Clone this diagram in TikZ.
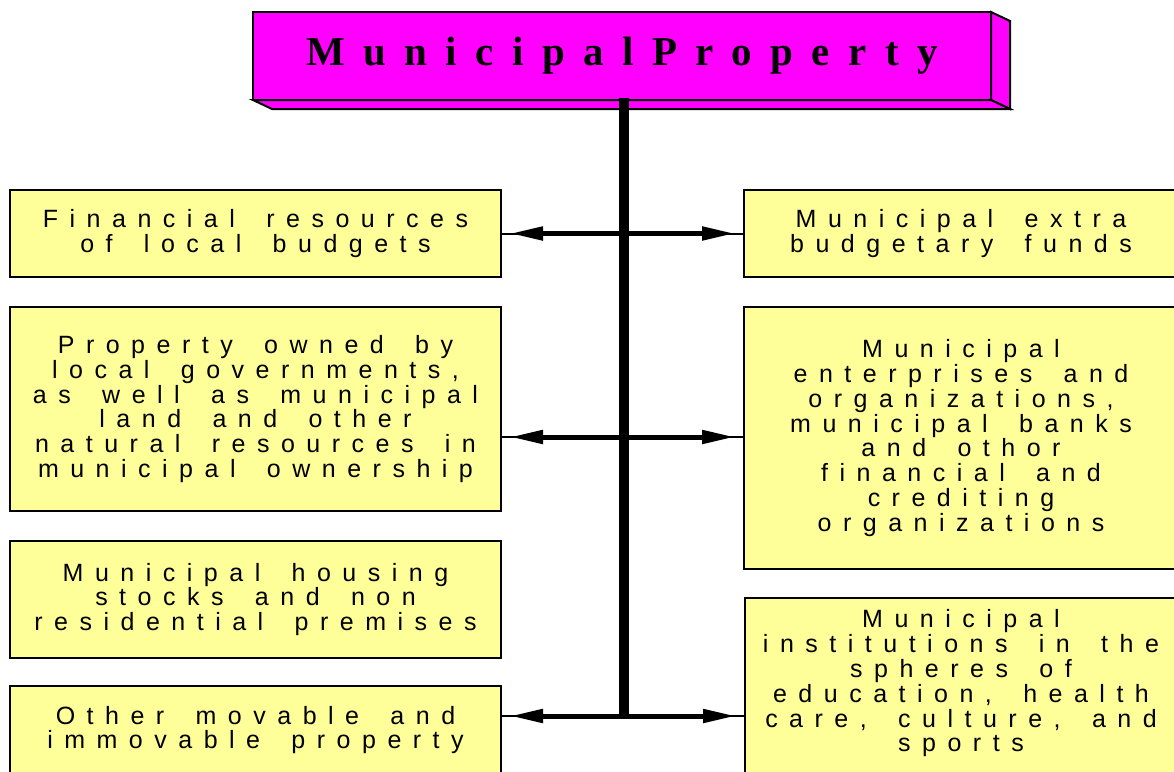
\documentclass[tikz,border=0pt]{standalone}
\usepackage{fontspec}
\usetikzlibrary{arrows.meta,calc}
\newfontfamily\boxfont[LetterSpace=46,WordSpace=1.7]{Liberation Sans}
\newfontfamily\titlefont[LetterSpace=45]{Liberation Serif}
\definecolor{boxyellow}{RGB}{255,255,153}
\definecolor{titlemag}{RGB}{255,0,255}
\begin{document}
\begin{tikzpicture}[x=1pt,y=-1pt,
  box/.style={draw=black, line width=2pt, fill=boxyellow, rectangle, inner sep=0pt,
    align=center, text=black, font=\boxfont\fontsize{25}{24.8}\selectfont},
  lbox/.style={box, minimum width=491pt},
  rbox/.style={box, minimum width=434pt},
  txt/.style={inner sep=0pt, align=center, text=black, font=\boxfont\fontsize{25}{24.8}\selectfont},
  titlebox/.style={draw=black, line width=2pt, fill=titlemag, rectangle, inner sep=0pt,
    minimum width=738pt, minimum height=88pt, text=black,
    font=\titlefont\bfseries\fontsize{41}{41}\selectfont},
  face/.style={draw=black, line width=2pt, fill=titlemag, line join=miter},
  conn/.style={line width=5pt, -{Triangle[length=33pt,width=13pt]}, shorten >=8pt},
  thinline/.style={line width=2pt},
  stem/.style={line width=10pt}
]
\useasboundingbox (0,0) rectangle (1174,771);
\clip (0,0) rectangle (1174,771);

% 3D title box
\draw[face] (991,12) -- (1010,21) -- (1010,109) -- (991,100) -- cycle;
\draw[face] (253,100) -- (272,109) -- (1010,109) -- (991,100) -- cycle;
\node[titlebox] (top) at (622,56) {MunicipalProperty};

% boxes
\node[lbox, minimum height=87pt] (L1) at (255.5,233.5) {Financial resources\\of local budgets};
\node[lbox, minimum height=204pt] (L2) at (255.5,409) {Property owned by\\local governments,\\as well as municipal\\land and other\\natural resources in\\municipal ownership};
\node[lbox, minimum height=117pt] (L3) at (255.5,599.5) {Municipal housing\\stocks and non\\residential premises};
\node[lbox, minimum height=88pt] (L4) at (255.5,730) {Other movable and\\immovable property};

\node[rbox, minimum height=87pt] (R1) at (961,233.5) {Municipal extra\\budgetary funds};
\node[rbox, minimum height=262pt] (R2) at (961,438) {Municipal\\enterprises and\\organizations,\\municipal banks\\and othor\\financial and\\crediting\\organizations};
\node[rbox, minimum height=200pt, anchor=north west] (R3) at (744,597) {};
\node[txt] (R3t) at (961,683.5) {Municipal\\institutions in the\\spheres of\\education, health\\care, culture, and\\sports};

% stem and junctions
\coordinate (s0) at (623.5,98);
\coordinate (j1) at (623.5,233.5);
\coordinate (j2) at (623.5,437);
\coordinate (j3) at (623.5,716);
\coordinate (s3) at (623.5,718.5);
\draw[stem] (s0) -- (s3);

% connectors
\draw[thinline] (L1.east |- j1) -- (R1.west |- j1);
\draw[thinline] (L2.east |- j2) -- (R2.west |- j2);
\draw[thinline] (L4.east |- j3) -- (R3.west |- j3);
\draw[conn] (j1) -- (L1.east |- j1);
\draw[conn] (j1) -- (R1.west |- j1);
\draw[conn] (j2) -- (L2.east |- j2);
\draw[conn] (j2) -- (R2.west |- j2);
\draw[conn] (j3) -- (L4.east |- j3);
\draw[conn] (j3) -- (R3.west |- j3);
\end{tikzpicture}
\end{document}
